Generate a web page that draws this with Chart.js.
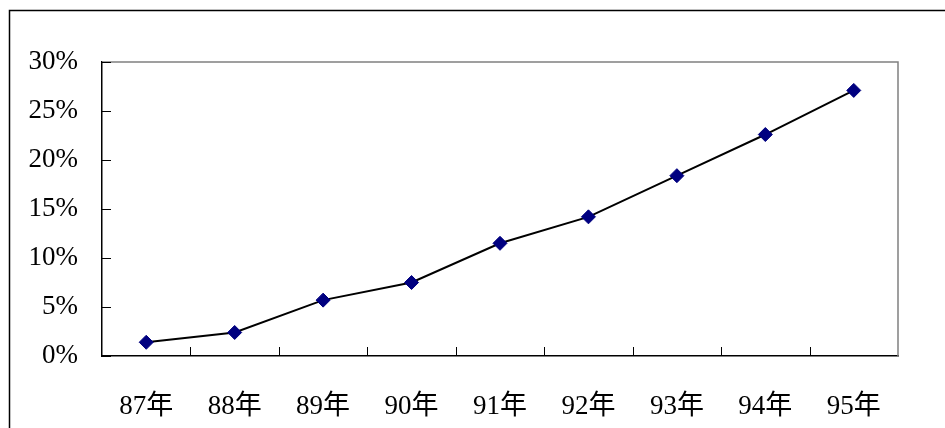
<!DOCTYPE html>
<html>
<head>
<meta charset="utf-8">
<script src="https://cdn.jsdelivr.net/npm/chart.js@4.4.1/dist/chart.umd.min.js"></script>
<style>
  html, body { margin: 0; padding: 0; background: #fff; }
  #wrap { position: relative; width: 945px; height: 428px; }
</style>
</head>
<body>
<div id="wrap"><canvas id="chart" width="945" height="428"></canvas></div>
<script>
// values
const years = ['87年', '88年', '89年', '90年', '91年', '92年', '93年', '94年', '95年'];
const rates = [1.4, 2.4, 5.7, 7.5, 11.5, 14.2, 18.4, 22.6, 27.1];
const yTicks = [0, 5, 10, 15, 20, 25, 30];

const labelFont = { family: "'Liberation Serif', 'Noto Sans CJK TC', serif", size: 27 };

// outer frame, grey top/right plot border, inward tick marks
const framePlugin = {
    id: 'frame',
    beforeDraw(chart) {
        const ctx = chart.ctx;
        ctx.save();
        ctx.fillStyle = '#fff';
        ctx.fillRect(0, 0, chart.width, chart.height);
        ctx.strokeStyle = '#000';
        ctx.lineWidth = 1.5;
        ctx.strokeRect(9.5, 10.5, 945, 428);
        ctx.restore();
    },
    afterDraw(chart) {
        const ctx = chart.ctx;
        const a = chart.chartArea;
        const x = chart.scales.x;
        const y = chart.scales.y;
        ctx.save();
        // grey top and right border
        ctx.strokeStyle = '#808080';
        ctx.lineWidth = 1.5;
        ctx.beginPath();
        ctx.moveTo(a.left, a.top);
        ctx.lineTo(a.right, a.top);
        ctx.lineTo(a.right, a.bottom);
        ctx.stroke();
        // ticks pointing into the plot
        ctx.strokeStyle = '#000';
        ctx.lineWidth = 1;
        ctx.beginPath();
        yTicks.forEach(v => {
            const py = Math.round(y.getPixelForValue(v)) + 0.5;
            ctx.moveTo(a.left, py);
            ctx.lineTo(a.left + 9, py);
        });
        for (let i = 1; i < years.length; i++) {
            const px = Math.round((x.getPixelForValue(i - 1) + x.getPixelForValue(i)) / 2) + 0.5;
            ctx.moveTo(px, a.bottom);
            ctx.lineTo(px, a.bottom - 9);
        }
        ctx.stroke();
        ctx.restore();
    }
};

new Chart(document.getElementById('chart'), {
    type: 'line',
    data: {
        labels: years,
        datasets: [{
            data: rates,
            borderColor: '#000',
            borderWidth: 2,
            pointStyle: 'rectRot',
            pointRadius: 7,
            pointBackgroundColor: '#000080',
            pointBorderColor: '#000080',
            pointBorderWidth: 1,
            tension: 0,
            clip: false
        }]
    },
    options: {
        responsive: false,
        animation: false,
        devicePixelRatio: 1,
        layout: { padding: { left: 0, top: 62, right: 47, bottom: 0 } },
        plugins: {
            legend: { display: false },
            tooltip: { enabled: false }
        },
        scales: {
            x: {
                type: 'category',
                offset: true,
                grid: { display: false },
                border: { display: true, color: '#000', width: 1.5 },
                ticks: { color: '#000', font: labelFont, padding: 27, maxRotation: 0 },
                afterFit(scale) { scale.height = 72; }
            },
            y: {
                min: 0,
                max: 30,
                grid: { display: false },
                border: { display: true, color: '#000', width: 1.5 },
                ticks: {
                    stepSize: 5,
                    color: '#000',
                    font: labelFont,
                    padding: 16,
                    callback: v => v + '%'
                },
                afterFit(scale) { scale.width = 102; }
            }
        }
    },
    plugins: [framePlugin]
});
</script>
</body>
</html>
